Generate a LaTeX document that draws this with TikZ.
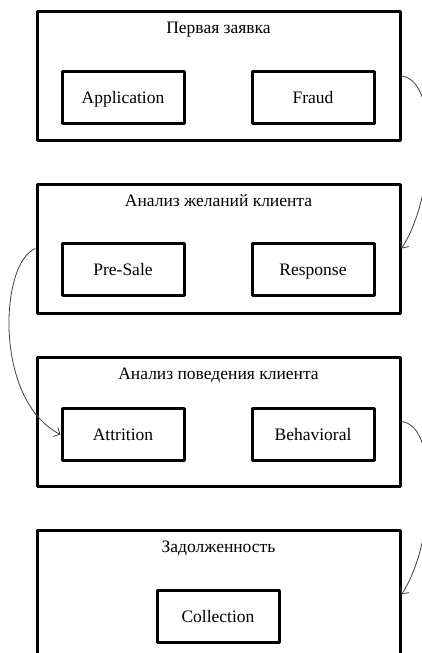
\documentclass[tikz,border=0pt]{standalone}
\usepackage{fontspec}
\setmainfont{Liberation Serif}
\usetikzlibrary{arrows.meta}
\begin{document}
\begin{tikzpicture}[x=1pt, y=-1pt, font=\fontsize{17.5}{20}\selectfont, line join=round,
		>={Straight Barb[length=5pt,width=10pt]},
		stage/.style={draw, line width=3pt, minimum width=363, minimum height=129, inner sep=0pt},
		model/.style={draw, line width=3pt, minimum width=122, minimum height=52, inner sep=0pt,
			text height=14, text depth=2},
		title/.style={anchor=north, inner sep=0pt},
		flow/.style={->, draw=black!75, line width=0.8pt}]
				\useasboundingbox (0,0) rectangle (422,653);
				\begin{scope}
				\clip (0,0) rectangle (422,653);
				\node[stage] (first) at (218.5,76) {};
				\node[stage] (wish) at (218.5,248.5) {};
				\node[stage] (behav) at (218.5,421.5) {};
				\node[stage] (debt) at (218.5,594.5) {};
				\node[title] (t1) at ([yshift=-12]first.north) {Первая заявка};
				\node[title] (t2) at ([yshift=-12]wish.north) {Анализ желаний клиента};
				\node[title] (t3) at ([yshift=-12]behav.north) {Анализ поведения клиента};
				\node[title] (t4) at ([yshift=-12]debt.north) {Задолженность};
				\foreach \n/\x/\y/\t in {app/123/97.5/Application, fraud/313/97.5/Fraud,
					presale/123/269/Pre-Sale, resp/313/269/Response,
					attr/123/434.5/Attrition, behv/313/434.5/Behavioral,
					coll/218/616/Collection}
					\node[model] (\n) at (\x,\y) {\t};
				% transitions between stages
				\draw[flow] (first.east) .. controls +(38,4) and +(34,-52) .. (wish.east);
				\draw[flow] (wish.west) .. controls +(-36,14) and +(-67,-34) .. (attr.west);
				\draw[flow] (behav.east) .. controls +(38,4) and +(34,-52) .. (debt.east);
				\end{scope}
			\end{tikzpicture}
\end{document}
